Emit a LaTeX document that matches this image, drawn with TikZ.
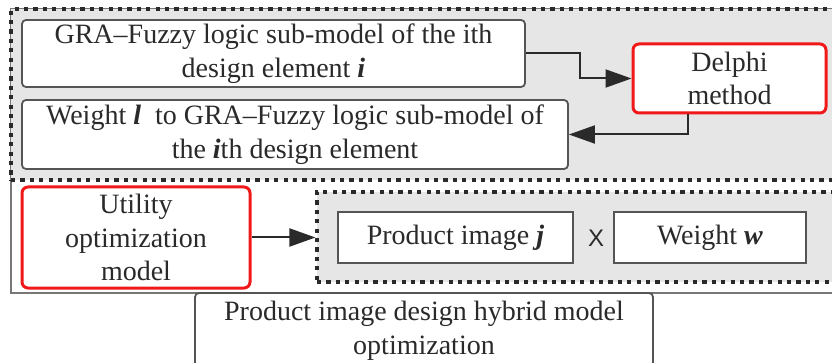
\documentclass[tikz,border=0pt]{standalone}
\usepackage{fontspec}
\setmainfont{Liberation Serif}
\newfontfamily\xsans{Liberation Sans}
\usetikzlibrary{arrows.meta}
\definecolor{panel}{HTML}{E6E6E6}
\definecolor{edge}{HTML}{555555}
\definecolor{ink}{HTML}{2A2A2A}
\definecolor{hot}{HTML}{F01818}
\tikzset{
  every node/.style={font=\fontsize{28}{33.5}\selectfont, text=ink},
  grp/.style={draw=ink, line width=3.1pt, dash pattern=on 4.2pt off 5.2pt, fill=panel},
  plainbox/.style={draw=edge, line width=1.8pt, fill=white, rounded corners=4pt,
    inner sep=0pt, align=center},
  redbox/.style={draw=hot, line width=3pt, fill=white, rounded corners=6pt,
    inner sep=0pt, align=center},
  sqbox/.style={draw=edge, line width=1.8pt, fill=white, inner sep=0pt, align=center},
  arr/.style={draw=ink, line width=2pt, -{Triangle[length=26pt,width=18pt]}},
}
\newcommand{\bi}[1]{\textbf{\textit{#1}}}
\begin{document}
\begin{tikzpicture}[x=1pt,y=-1pt]
\useasboundingbox (0,0) rectangle (832,363);
\clip (0,0) rectangle (832,363);

% outer frame of the whole model
\draw[draw=edge!80, line width=1.6pt] (11,9) rectangle (860,293);

% upper group: sub-models and Delphi weighting
\node[grp, minimum width=849pt, minimum height=171pt, inner sep=0pt] (top) at (435.5,94.5) {};

% lower group: product image times weight
\node[grp, minimum width=543pt, minimum height=90pt, inner sep=0pt] (low) at (588.5,237) {};

% boxes of the upper group
\node[plainbox, minimum width=503pt, minimum height=67pt] (sub) at (273.5,53.5)
  {GRA--Fuzzy logic sub-model of the ith\\design element \bi{i}};
\node[plainbox, minimum width=546pt, minimum height=69pt] (wgt) at (295,134.5)
  {Weight \bi{l}\ \ to GRA--Fuzzy logic sub-model of\\the \bi{i}th design element};
\node[redbox, minimum width=193pt, minimum height=69pt] (delphi) at (729.5,78.5)
  {Delphi\\method};

% boxes of the lower group
\node[redbox, minimum width=228pt, minimum height=101pt] (util) at (136,237.5)
  {Utility\\optimization\\model};
\node[sqbox, minimum width=235pt, minimum height=51pt] (img) at (455.5,237.5)
  {Product image \bi{j}};
\node[font=\xsans\fontsize{24}{28}\selectfont] (times) at (596,238) {X};
\node[sqbox, minimum width=192pt, minimum height=51pt] (ww) at (710,237.5)
  {Weight \bi{w}};

% caption box under the frame
\node[plainbox, minimum width=458pt, minimum height=76pt] (cap) at (424,331)
  {Product image design hybrid model\\optimization};

% connectors
\coordinate (bend1) at (580,0);
\coordinate (bend2) at (688,0);
\draw[arr] (sub.east) -- (sub.east -| bend1) |- (delphi.west);
\draw[arr] (delphi.south -| bend2) |- (wgt.east);
\draw[arr] (util.east) -- (util.east -| low.west);
\end{tikzpicture}
\end{document}
